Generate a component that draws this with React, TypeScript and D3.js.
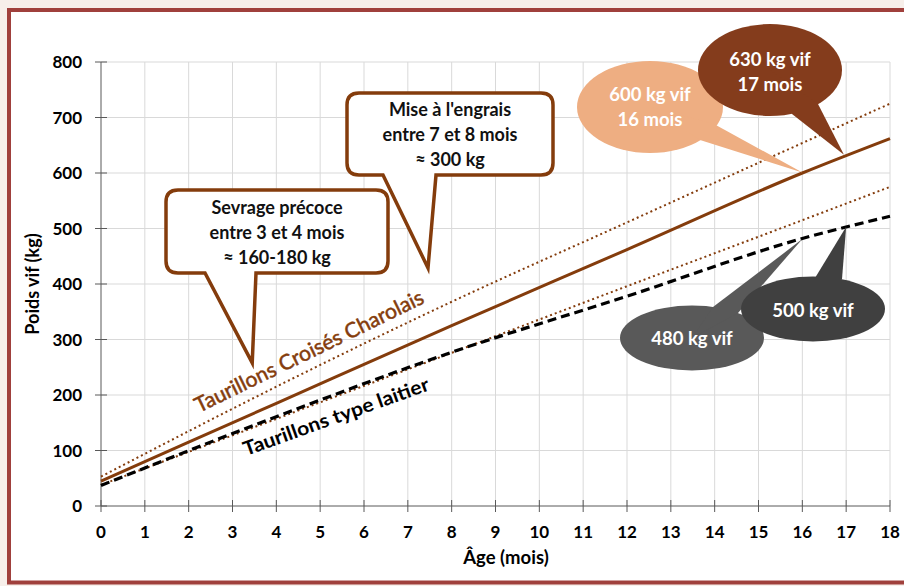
import React from "react";
import * as d3 from "d3";

const ages = [0, 4, 8, 12, 16, 18];
const charolaisHigh = [53, 215, 368, 511, 654, 725];
const charolaisAvg = [45, 185, 325, 462, 600, 662];
const charolaisLow = [38, 157, 276, 396, 515, 575];
const laitier = [37, 161, 277, 378, 482, 522];
const xTicks = d3.range(0, 19);
const yTicks = [0, 100, 200, 300, 400, 500, 600, 700, 800];

const boxNotes = [
  { lines: ["Sevrage précoce", "entre 3 et 4 mois", "≈ 160-180 kg"], tip: [3.45, 258] },
  { lines: ["Mise à l'engrais", "entre 7 et 8 mois", "≈ 300 kg"], tip: [7.46, 429] },
];
const bubbleNotes = [
  { lines: ["600 kg vif", "16 mois"], tip: [16, 601], fill: "#eeae82" },
  { lines: ["630 kg vif", "17 mois"], tip: [16.95, 633], fill: "#843c1c" },
  { lines: ["480 kg vif"], tip: [16, 481], fill: "#595959" },
  { lines: ["500 kg vif"], tip: [17, 503], fill: "#404040" },
];

const W = 904, H = 586;
const FONT = "Lato, 'Open Sans', sans-serif";
const BROWN = "#843c0c";

export default function App() {
  const x = d3.scaleLinear().domain([0, 18]).range([101, 890]);
  const y = d3.scaleLinear().domain([0, 800]).range([506, 62]);
  const line = (vals: number[]) =>
    d3.line<number>().x((_, i) => x(ages[i])).y((v) => y(v)).curve(d3.curveMonotoneX)(vals) as string;

  const boxes = [
    { x0: 166, x1: 388, y0: 190, y1: 273, b0: 205, b1: 256, ty: 214 },
    { x0: 347, x1: 553, y0: 93, y1: 175, b0: 383, b1: 436, ty: 116 },
  ];
  const boxPath = (b: any, tip: number[]) => {
    const r = 12;
    const tx = x(tip[0]), ty = y(tip[1]);
    return `M${b.x0 + r},${b.y0} H${b.x1 - r} Q${b.x1},${b.y0} ${b.x1},${b.y0 + r} V${b.y1 - r} Q${b.x1},${b.y1} ${b.x1 - r},${b.y1} H${b.b1} L${tx},${ty} L${b.b0},${b.y1} H${b.x0 + r} Q${b.x0},${b.y1} ${b.x0},${b.y1 - r} V${b.y0 + r} Q${b.x0},${b.y0} ${b.x0 + r},${b.y0} Z`;
  };

  const bubbles = [
    { cx: 650, cy: 107, rx: 73, ry: 46, base: [[714, 124], [700, 140]], ty: 101 },
    { cx: 770, cy: 70, rx: 72, ry: 46, base: [[818, 104], [792, 114]], ty: 66 },
    { cx: 692, cy: 338, rx: 72, ry: 32.5, base: [[713, 307], [738, 313]], ty: 345 },
    { cx: 813, cy: 309, rx: 72, ry: 32.5, base: [[815, 278], [842, 279]], ty: 317 },
  ];

  return (
    <svg width={W} height={H} style={{ position: "absolute", left: 0, top: 0 }} fontFamily={FONT}>
      <rect x={0} y={0} width={W} height={H} fill="#f7efea" />
      <rect x={9} y={10} width={W + 20} height={H - 13.5} fill="#ffffff" stroke="#a0403c" strokeWidth={4} />

      {xTicks.filter((t) => t > 0).map((t) => (
        <line key={"gx" + t} x1={x(t)} x2={x(t)} y1={y(800)} y2={y(0)} stroke="#d9d9d9" strokeWidth={1} />
      ))}
      {yTicks.filter((t) => t > 0).map((t) => (
        <line key={"gy" + t} x1={x(0)} x2={x(18)} y1={y(t)} y2={y(t)} stroke="#d9d9d9" strokeWidth={1} />
      ))}

      <line x1={x(0)} x2={x(0)} y1={y(800)} y2={y(0)} stroke="#595959" strokeWidth={1} />
      <line x1={x(0)} x2={x(18)} y1={y(0)} y2={y(0)} stroke="#595959" strokeWidth={1} />
      {yTicks.map((t) => (
        <g key={"yt" + t}>
          <line x1={x(0) - 6} x2={x(0) + 6} y1={y(t)} y2={y(t)} stroke="#595959" strokeWidth={1} />
          <text x={82} y={y(t)} dy="0.36em" textAnchor="end" fontSize={17} fontWeight={700} fill="#000">{t}</text>
        </g>
      ))}
      {xTicks.map((t) => (
        <g key={"xt" + t}>
          <line x1={x(t)} x2={x(t)} y1={y(0) - 6} y2={y(0) + 6} stroke="#595959" strokeWidth={1} />
          <text x={x(t)} y={538} textAnchor="middle" fontSize={17} fontWeight={700} fill="#000">{t}</text>
        </g>
      ))}
      <text x={506} y={564} textAnchor="middle" fontSize={18.5} fontWeight={700} fill="#000">Âge (mois)</text>
      <text transform={`translate(39,284) rotate(-90)`} textAnchor="middle" fontSize={18} fontWeight={700} fill="#000">Poids vif (kg)</text>

      <path d={line(charolaisHigh)} fill="none" stroke={BROWN} strokeWidth={2} strokeDasharray="2,3" />
      <path d={line(charolaisLow)} fill="none" stroke={BROWN} strokeWidth={2} strokeDasharray="2,3" />
      <path d={line(charolaisAvg)} fill="none" stroke={BROWN} strokeWidth={3} />
      <path d={line(laitier)} fill="none" stroke="#000" strokeWidth={3.2} strokeDasharray="9,5" />

      <text transform="translate(199,413) rotate(-26)" fontSize={21} fill={BROWN} stroke={BROWN} strokeWidth={0.5} textLength={252} lengthAdjust="spacingAndGlyphs">Taurillons Croisés Charolais</text>
      <text transform="translate(246,456) rotate(-19.7)" fontSize={19.5} fontWeight={700} fill="#000" textLength={196} lengthAdjust="spacingAndGlyphs">Taurillons type laitier</text>

      {boxNotes.map((n, i) => {
        const b = boxes[i];
        return (
          <g key={"bn" + i}>
            <path d={boxPath(b, n.tip)} fill="#fff" stroke={BROWN} strokeWidth={3.5} strokeLinejoin="miter" />
            {n.lines.map((l, j) => (
              <text key={j} x={(b.x0 + b.x1) / 2} y={b.ty + j * 24.8} textAnchor="middle" fontSize={18} fontWeight={700} fill="#111">{l}</text>
            ))}
          </g>
        );
      })}

      {bubbleNotes.map((n, i) => {
        const b = bubbles[i];
        const tip = [x(n.tip[0]), y(n.tip[1])];
        return (
          <g key={"bb" + i}>
            <ellipse cx={b.cx} cy={b.cy} rx={b.rx} ry={b.ry} fill={n.fill} />
            <path d={`M${b.base[0][0]},${b.base[0][1]} L${tip[0]},${tip[1]} L${b.base[1][0]},${b.base[1][1]} L${b.cx},${b.cy} Z`} fill={n.fill} />
            {n.lines.map((l, j) => (
              <text key={j} x={b.cx} y={b.ty + j * 25} textAnchor="middle" fontSize={18.5} fontWeight={700} fill="#fff">{l}</text>
            ))}
          </g>
        );
      })}
    </svg>
  );
}
